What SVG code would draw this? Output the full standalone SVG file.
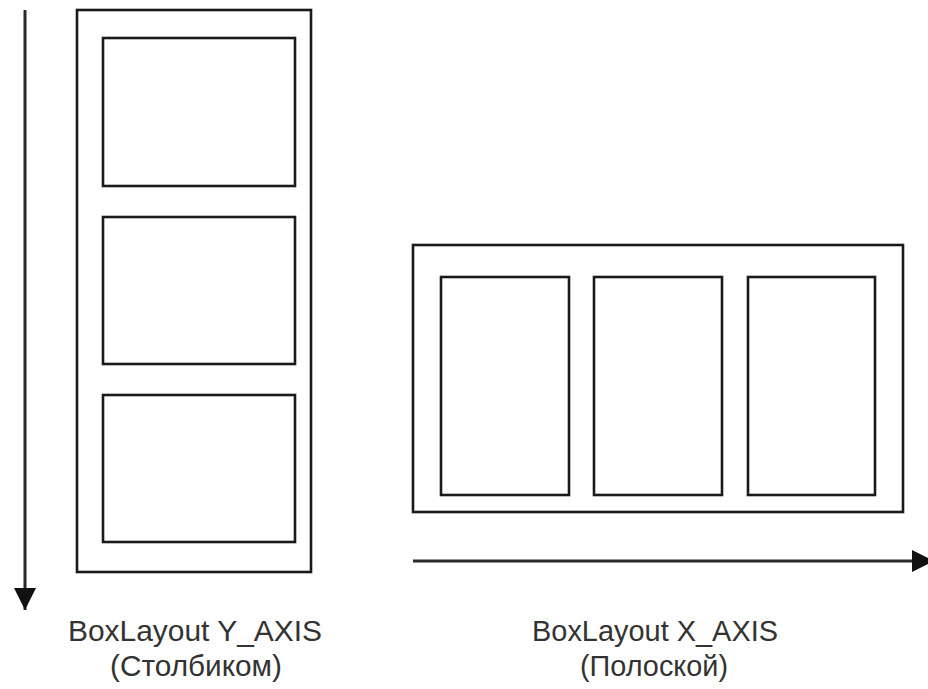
<svg xmlns="http://www.w3.org/2000/svg" width="928" height="689" viewBox="0 0 928 689">
<style>
.box{fill:none;stroke:#1a1a1a;stroke-width:2.6}
.ax{stroke:#2a2a2a;stroke-width:3;fill:none}
.lbl{font-family:"Liberation Sans",Arial,sans-serif;font-size:29px;fill:#333;text-anchor:middle}
</style>
<defs>
<marker id="ah" markerUnits="userSpaceOnUse" markerWidth="24" markerHeight="24" refX="22" refY="12" orient="auto">
<path d="M0,1 L22,12 L0,23 Z" fill="#111"/>
</marker>
</defs>
<rect width="928" height="689" fill="#fff"/>
<g id="connectors">
<line class="ax" x1="25" y1="10" x2="25" y2="610" marker-end="url(#ah)"/>
<line class="ax" x1="413" y1="561" x2="934" y2="561" marker-end="url(#ah)"/>
</g>
<g id="y-container"><rect class="box" x="77" y="10" width="234" height="562"/></g>
<g id="y-item1"><rect class="box" x="103" y="38" width="192" height="148"/></g>
<g id="y-item2"><rect class="box" x="103" y="217" width="192" height="147"/></g>
<g id="y-item3"><rect class="box" x="103" y="395" width="192" height="147"/></g>
<g id="x-container"><rect class="box" x="413" y="245" width="490" height="267"/></g>
<g id="x-item1"><rect class="box" x="441" y="277" width="128" height="218"/></g>
<g id="x-item2"><rect class="box" x="594" y="277" width="128" height="218"/></g>
<g id="x-item3"><rect class="box" x="748" y="277" width="127" height="218"/></g>
<g id="label-y">
<text class="lbl" x="195" y="641" textLength="254" lengthAdjust="spacingAndGlyphs">BoxLayout Y_AXIS</text>
<text class="lbl" x="196" y="676" textLength="172" lengthAdjust="spacingAndGlyphs">(Столбиком)</text>
</g>
<g id="label-x">
<text class="lbl" x="655" y="641" textLength="246" lengthAdjust="spacingAndGlyphs">BoxLayout X_AXIS</text>
<text class="lbl" x="654" y="676" textLength="148" lengthAdjust="spacingAndGlyphs">(Полоской)</text>
</g>
</svg>
